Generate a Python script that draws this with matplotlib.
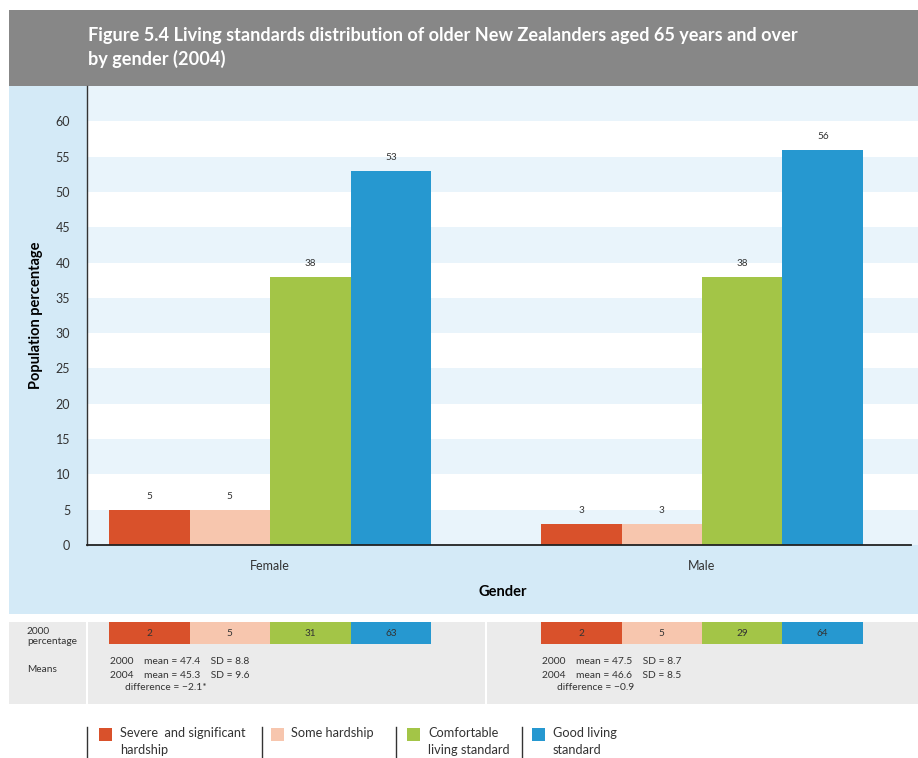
import matplotlib
matplotlib.use("Agg")
import matplotlib.pyplot as plt
from matplotlib.patches import Rectangle
from matplotlib.lines import Line2D
import numpy as np

plt.rcParams['font.family'] = ['Lato', 'DejaVu Sans']

# ---- data ----
genders = ["Female", "Male"]
categories = ["Severe  and significant\nhardship", "Some hardship",
              "Comfortable\nliving standard", "Good living\nstandard"]
pct_2004_female = [5, 5, 38, 53]
pct_2004_male = [3, 3, 38, 56]
pct_2000_female = [2, 5, 31, 63]
pct_2000_male = [2, 5, 29, 64]
means_female = ["2000    mean = 47.4    SD = 8.8",
                "2004    mean = 45.3    SD = 9.6",
                "difference = \u22122.1*"]
means_male = ["2000    mean = 47.5    SD = 8.7",
              "2004    mean = 46.6    SD = 8.5",
              "difference = \u22120.9"]
yticks = list(range(0, 65, 5))

colors = ["#d9512b", "#f7c6ae", "#a3c547", "#2698d0"]
TITLE_GREY = "#878787"
PANEL_BLUE = "#d4eaf7"
STRIPE = "#e9f4fb"
TABLE_GREY = "#ebebeb"
TEXT = "#333333"

W, H = 918, 758
fig = plt.figure(figsize=(W / 100, H / 100), dpi=100)


def fx(px):
    return px / W


def fy(py):
    return 1 - py / H


def frect(x0, y0, x1, y1, color, z=-5):
    fig.add_artist(Rectangle((fx(x0), fy(y1)), fx(x1) - fx(x0), fy(y0) - fy(y1),
                             transform=fig.transFigure, facecolor=color,
                             edgecolor="none", zorder=z))


# background panels
frect(9, 10, W, 86, TITLE_GREY)
frect(9, 86, W, 614, PANEL_BLUE)
frect(9, 622, W, 704, TABLE_GREY)
for xd in (87, 486):
    fig.add_artist(Line2D([fx(xd), fx(xd)], [fy(622), fy(704)], color="white", lw=1.5, zorder=-4))

fig.text(fx(88), fy(36), "Figure 5.4 Living standards distribution of older New Zealanders aged 65 years and over",
         color="white", fontsize=13.1, fontweight="bold", va="center", ha="left")
fig.text(fx(88), fy(59), "by gender (2004)",
         color="white", fontsize=13.1, fontweight="bold", va="center", ha="left")

# ---- main chart ----
x_left, x_right, y_top, y_bot = 87, 918, 86, 545
ax = fig.add_axes([fx(x_left), fy(y_bot), fx(x_right) - fx(x_left), fy(y_top) - fy(y_bot)])
ax.set_facecolor("white")
xc = np.arange(len(genders))
unit = 432.0
xmin = -(270 - x_left) / unit
xmax = 1 + (x_right - 702) / unit
ax.set_xlim(xmin, xmax)
ax.set_ylim(0, 65)
bw = 80.5 / unit
offsets = (np.arange(4) - 1.5) * bw

for lo in range(0, 65, 10):
    ax.axhspan(lo, lo + 5, color=STRIPE, lw=0, zorder=0)

vals_2004 = np.array([pct_2004_female, pct_2004_male])
for i in range(4):
    ax.bar(xc + offsets[i], vals_2004[:, i], width=bw, color=colors[i], zorder=2, lw=0)
    for g in range(2):
        v = vals_2004[g, i]
        ax.annotate(f"{v}", (xc[g] + offsets[i], v), xytext=(0, 6),
                    textcoords="offset points", ha="center", va="bottom",
                    fontsize=7.2, color=TEXT)

for s in ("top", "right"):
    ax.spines[s].set_visible(False)
ax.spines["left"].set_color("#333333")
ax.spines["bottom"].set_color("#222222")
ax.spines["left"].set_linewidth(1.0)
ax.spines["bottom"].set_linewidth(1.3)
ax.spines["bottom"].set_bounds(xmin, 1 + (911 - 702) / unit)
ax.set_yticks(yticks)
ax.set_yticklabels([str(t) for t in yticks], fontsize=9, color=TEXT)
ax.tick_params(axis="y", length=0, pad=12)
ax.set_xticks(xc)
ax.set_xticklabels(genders, fontsize=9, color=TEXT)
ax.tick_params(axis="x", length=0, pad=11)
ax.set_xlabel("Gender", fontsize=10.5, fontweight="bold", color="black", labelpad=9)
ax.set_ylabel("Population percentage", fontsize=10.5, fontweight="bold", color="black", labelpad=9)

# ---- 2000 comparison strip ----
ax2 = fig.add_axes([fx(x_left), fy(644), fx(x_right) - fx(x_left), fy(622) - fy(644)])
ax2.set_xlim(xmin, xmax)
ax2.set_ylim(0, 1)
ax2.axis("off")
vals_2000 = np.array([pct_2000_female, pct_2000_male])
for i in range(4):
    ax2.bar(xc + offsets[i], [1, 1], width=bw, color=colors[i], lw=0)
    for g in range(2):
        ax2.text(xc[g] + offsets[i], 0.5, f"{vals_2000[g, i]}", ha="center", va="center",
                 fontsize=7.2, color=TEXT)

fig.text(fx(27), fy(631), "2000", fontsize=7.3, color=TEXT, va="center")
fig.text(fx(27), fy(642), "percentage", fontsize=7.3, color=TEXT, va="center")
fig.text(fx(27), fy(669), "Means", fontsize=7.3, color=TEXT, va="center")

for x0, lines in ((110, means_female), (542, means_male)):
    fig.text(fx(x0), fy(662), lines[0], fontsize=7.4, color=TEXT, va="center")
    fig.text(fx(x0), fy(675), lines[1], fontsize=7.4, color=TEXT, va="center")
    fig.text(fx(x0 + 15), fy(688), lines[2], fontsize=7.4, color=TEXT, va="center")

# ---- legend ----
for xs in (87, 262, 396, 522):
    fig.add_artist(Line2D([fx(xs), fx(xs)], [fy(727), fy(758)], color="#333333", lw=1))
patch_x = [99, 271, 407, 532]
text_x = [120, 291, 428, 553]
for i in range(4):
    frect(patch_x[i], 728, patch_x[i] + 13, 741, colors[i], z=1)
    fig.text(fx(text_x[i]), fy(727), categories[i], fontsize=9.2, color=TEXT,
             va="top", ha="left", linespacing=1.55)

fig.savefig("out.png", dpi=100)
